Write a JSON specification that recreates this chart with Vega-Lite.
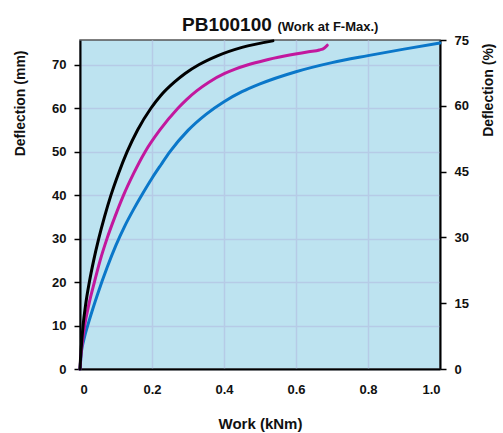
{
  "$schema": "https://vega.github.io/schema/vega-lite/v6.json",
  "width": 360,
  "height": 329,
  "autosize": {"type": "none"},
  "padding": {"left": 80, "top": 40, "right": 63, "bottom": 64},
  "background": "white",
  "title": {"text": "PB100100", "anchor": "start", "frame": "group", "dx": 102, "offset": -15, "fontSize": 19, "font": "Liberation Sans", "fontWeight": "bold", "color": "#111"},
  "config": {
    "view": {"fill": "#bde3f0", "stroke": "#555", "strokeWidth": 1.5},
    "axis": {
      "labelFont": "Liberation Sans", "labelFontWeight": "bold", "labelFontSize": 13, "labelColor": "#111",
      "titleFont": "Liberation Sans", "titleFontWeight": "bold", "titleFontSize": 14, "titleColor": "#111",
      "domainColor": "#000", "domainWidth": 2, "tickColor": "#000", "tickWidth": 1.5, "tickSize": 6,
      "gridColor": "#b6cbe6", "gridWidth": 1.5, "gridOpacity": 1
    }
  },
  "layer": [
    {
      "data": {"values": [
        {"series": "Blue", "work": 0, "defl": 0},
        {"series": "Blue", "work": 0.004, "defl": 4},
        {"series": "Blue", "work": 0.01, "defl": 6.5},
        {"series": "Blue", "work": 0.025, "defl": 11},
        {"series": "Blue", "work": 0.05, "defl": 17.5},
        {"series": "Blue", "work": 0.075, "defl": 23.3},
        {"series": "Blue", "work": 0.1, "defl": 28.5},
        {"series": "Blue", "work": 0.125, "defl": 33},
        {"series": "Blue", "work": 0.15, "defl": 36.9},
        {"series": "Blue", "work": 0.175, "defl": 40.5},
        {"series": "Blue", "work": 0.2, "defl": 43.9},
        {"series": "Blue", "work": 0.225, "defl": 47},
        {"series": "Blue", "work": 0.25, "defl": 50},
        {"series": "Blue", "work": 0.3, "defl": 54.9},
        {"series": "Blue", "work": 0.35, "defl": 58.6},
        {"series": "Blue", "work": 0.4, "defl": 61.5},
        {"series": "Blue", "work": 0.45, "defl": 63.8},
        {"series": "Blue", "work": 0.5, "defl": 65.6},
        {"series": "Blue", "work": 0.6, "defl": 68.4},
        {"series": "Blue", "work": 0.7, "defl": 70.5},
        {"series": "Blue", "work": 0.8, "defl": 72.1},
        {"series": "Blue", "work": 0.9, "defl": 73.6},
        {"series": "Blue", "work": 1.0, "defl": 75},
        {"series": "Magenta", "work": 0, "defl": 0},
        {"series": "Magenta", "work": 0.002, "defl": 2.5},
        {"series": "Magenta", "work": 0.005, "defl": 5},
        {"series": "Magenta", "work": 0.013, "defl": 10},
        {"series": "Magenta", "work": 0.025, "defl": 15},
        {"series": "Magenta", "work": 0.04, "defl": 20},
        {"series": "Magenta", "work": 0.056, "defl": 25},
        {"series": "Magenta", "work": 0.075, "defl": 30},
        {"series": "Magenta", "work": 0.097, "defl": 35},
        {"series": "Magenta", "work": 0.121, "defl": 40},
        {"series": "Magenta", "work": 0.149, "defl": 45},
        {"series": "Magenta", "work": 0.181, "defl": 50},
        {"series": "Magenta", "work": 0.222, "defl": 55},
        {"series": "Magenta", "work": 0.272, "defl": 60},
        {"series": "Magenta", "work": 0.296, "defl": 62},
        {"series": "Magenta", "work": 0.324, "defl": 64},
        {"series": "Magenta", "work": 0.358, "defl": 66},
        {"series": "Magenta", "work": 0.402, "defl": 68},
        {"series": "Magenta", "work": 0.431, "defl": 69},
        {"series": "Magenta", "work": 0.467, "defl": 70},
        {"series": "Magenta", "work": 0.512, "defl": 71},
        {"series": "Magenta", "work": 0.568, "defl": 72},
        {"series": "Magenta", "work": 0.635, "defl": 73},
        {"series": "Magenta", "work": 0.665, "defl": 73.4},
        {"series": "Magenta", "work": 0.678, "defl": 73.8},
        {"series": "Magenta", "work": 0.687, "defl": 74.5},
        {"series": "Black", "work": 0, "defl": 0},
        {"series": "Black", "work": 0.0015, "defl": 2.5},
        {"series": "Black", "work": 0.0035, "defl": 5},
        {"series": "Black", "work": 0.0085, "defl": 10},
        {"series": "Black", "work": 0.016, "defl": 15},
        {"series": "Black", "work": 0.026, "defl": 20},
        {"series": "Black", "work": 0.038, "defl": 25},
        {"series": "Black", "work": 0.052, "defl": 30},
        {"series": "Black", "work": 0.068, "defl": 35},
        {"series": "Black", "work": 0.086, "defl": 40},
        {"series": "Black", "work": 0.107, "defl": 45},
        {"series": "Black", "work": 0.131, "defl": 50},
        {"series": "Black", "work": 0.16, "defl": 55},
        {"series": "Black", "work": 0.197, "defl": 60},
        {"series": "Black", "work": 0.225, "defl": 63},
        {"series": "Black", "work": 0.262, "defl": 66},
        {"series": "Black", "work": 0.292, "defl": 68},
        {"series": "Black", "work": 0.33, "defl": 70},
        {"series": "Black", "work": 0.38, "defl": 72},
        {"series": "Black", "work": 0.45, "defl": 74},
        {"series": "Black", "work": 0.536, "defl": 75.5}
      ]},
      "mark": {"type": "line", "strokeWidth": 3, "strokeCap": "round", "strokeJoin": "round", "interpolate": "monotone"},
      "encoding": {
        "x": {"field": "work", "type": "quantitative", "scale": {"domain": [0, 1], "nice": false},
          "axis": {"orient": "bottom", "values": [0, 0.2, 0.4, 0.6, 0.8, 1.0], "labelExpr": "datum.value == 0 ? '0' : format(datum.value, '.1f')",
            "ticks": false, "labelPadding": 14, "title": "Work (kNm)", "titleFontSize": 15, "titleY": 59, "titleBaseline": "alphabetic"}},
        "y": {"field": "defl", "type": "quantitative", "scale": {"domain": [0, 75.7], "nice": false},
          "axis": {"orient": "left", "values": [0, 10, 20, 30, 40, 50, 60, 70], "labelPadding": 8,
            "title": "Deflection (mm)", "titleAngle": 270, "titleAlign": "right", "titleBaseline": "alphabetic", "titleX": -56, "titleY": 10}},
        "color": {"field": "series", "type": "nominal", "scale": {"domain": ["Black", "Magenta", "Blue"], "range": ["#000000", "#c2189e", "#0a77c9"]}, "legend": null}
      }
    },
    {
      "data": {"values": [{"pct": 0, "w": 0}, {"pct": 75, "w": 1}]},
      "mark": {"type": "point", "opacity": 0},
      "encoding": {
        "x": {"field": "w", "type": "quantitative", "scale": {"domain": [0, 1], "nice": false},
          "axis": {"orient": "top", "labels": false, "ticks": false, "domain": false, "grid": false,
            "title": "(Work at F-Max.)", "titleFontSize": 13, "titleX": 197, "titleY": -10, "titleAlign": "left", "titleBaseline": "alphabetic"}},
        "y": {"field": "pct", "type": "quantitative", "scale": {"domain": [0, 75], "nice": false},
          "axis": {"orient": "right", "values": [0, 15, 30, 45, 60, 75], "grid": false, "labelPadding": 8,
            "title": "Deflection (%)", "titleAngle": 270, "titleAlign": "right", "titleBaseline": "alphabetic", "titleX": 52, "titleY": 3}}
      }
    }
  ],
  "resolve": {"scale": {"y": "independent"}, "axis": {"x": "independent"}}
}
